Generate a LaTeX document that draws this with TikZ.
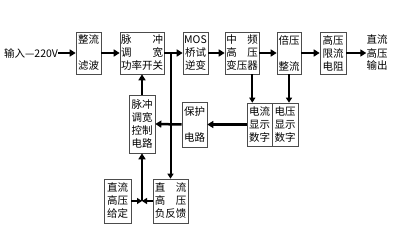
\documentclass[tikz,border=0pt]{standalone}
\usepackage{fontspec}
\newfontfamily\cjk{Noto Sans CJK SC}
\usetikzlibrary{arrows.meta,positioning,calc}

\begin{document}
\begin{tikzpicture}[x=1pt,y=-1pt,
	box node/.style={rectangle, draw=black!70, line width=.6pt, fill=white, align=center, inner sep=1pt, minimum height=42pt, font=\cjk\fontsize{10.5}{13}\selectfont},
	text node/.style={align=center, inner sep=0pt, font=\cjk\fontsize{10.5}{13}\selectfont},
	flow/.style={line width=2.5pt, -{Triangle[length=6pt,width=7pt]}},
	link/.style={line width=2pt, -{Triangle[length=5pt,width=6pt]}}]
	\useasboundingbox (0,0) rectangle (396,235);
	
	% main power path
	\node[text node] (in) at (31,53) {输入—220V};
	\node[box node,minimum width=25pt] (zl) at (88.5,53) {整流\\[13pt]滤波};
	\node[box node,minimum width=44pt] (kg) at (142,53) {脉\hspace{2em}冲\\调\hspace{2em}宽\\功率开关};
	\node[box node,minimum width=25pt] (mos) at (195.5,53) {MOS\\桥试\\逆变};
	\node[box node,minimum width=34pt] (byq) at (242,53) {中\hspace{1em}频\\高\hspace{1em}压\\变压器};
	\node[box node,minimum width=24pt] (bz) at (289,53) {倍压\\[13pt]整流};
	\node[box node,minimum width=26pt] (xl) at (333,53) {高压\\限流\\电阻};
	\node[text node] (out) at (377,53) {直流\\高压\\输出};
	
	% display, protection and control
	\node[box node,minimum width=25pt,minimum height=43pt] (dl) at (259.5,124.5) {电流\\显示\\数字};
	\node[box node,minimum width=26pt,minimum height=43pt] (dy) at (285,124.5) {电压\\显示\\数字};
	\node[box node,minimum width=25pt,minimum height=45pt] (bh) at (194.5,124.5) {保护\\[13pt]电路};
	\node[box node,minimum width=26pt,minimum height=58pt] (kz) at (142,124) {脉冲\\调宽\\控制\\电路};
	\node[box node,minimum width=27pt,minimum height=44pt] (gd) at (117.5,201) {直流\\高压\\给定};
	\node[box node,minimum width=35pt,minimum height=44pt] (fk) at (170.5,201) {直\hspace{1em}流\\高\hspace{1em}压\\负反馈};
	
	\draw[flow] (in) -- (zl);
	\draw[flow] (zl) -- (kg);
	\draw[flow] (kg) -- (mos);
	\draw[flow] (mos) -- (byq);
	\draw[flow] (byq) -- (bz);
	\draw[flow] (bz) -- (xl);
	\draw[flow] (xl) -- (out);
	
	\draw[link] (kg.east -| fk.north) -- (fk.north);
	\draw[link] ([xshift=-7pt]byq.south east) -- ([xshift=-7pt]byq.south east |- dl.north);
	\draw[link] (bz.south) -- (bz.south |- dy.north);
	\draw[flow] (dl.west) -- (bh.east);
	\draw[flow] (bh.west) -- (kz.east);
	\draw[flow] (kz.north) -- (kg.south);
	
	\coordinate (j) at (kz.south |- gd.east);
	\draw[link] (gd.east) -- (j);
	\draw[link] (fk.west) -- (j);
	\draw[flow] (j) -- (kz.south);
\end{tikzpicture}
\end{document}
